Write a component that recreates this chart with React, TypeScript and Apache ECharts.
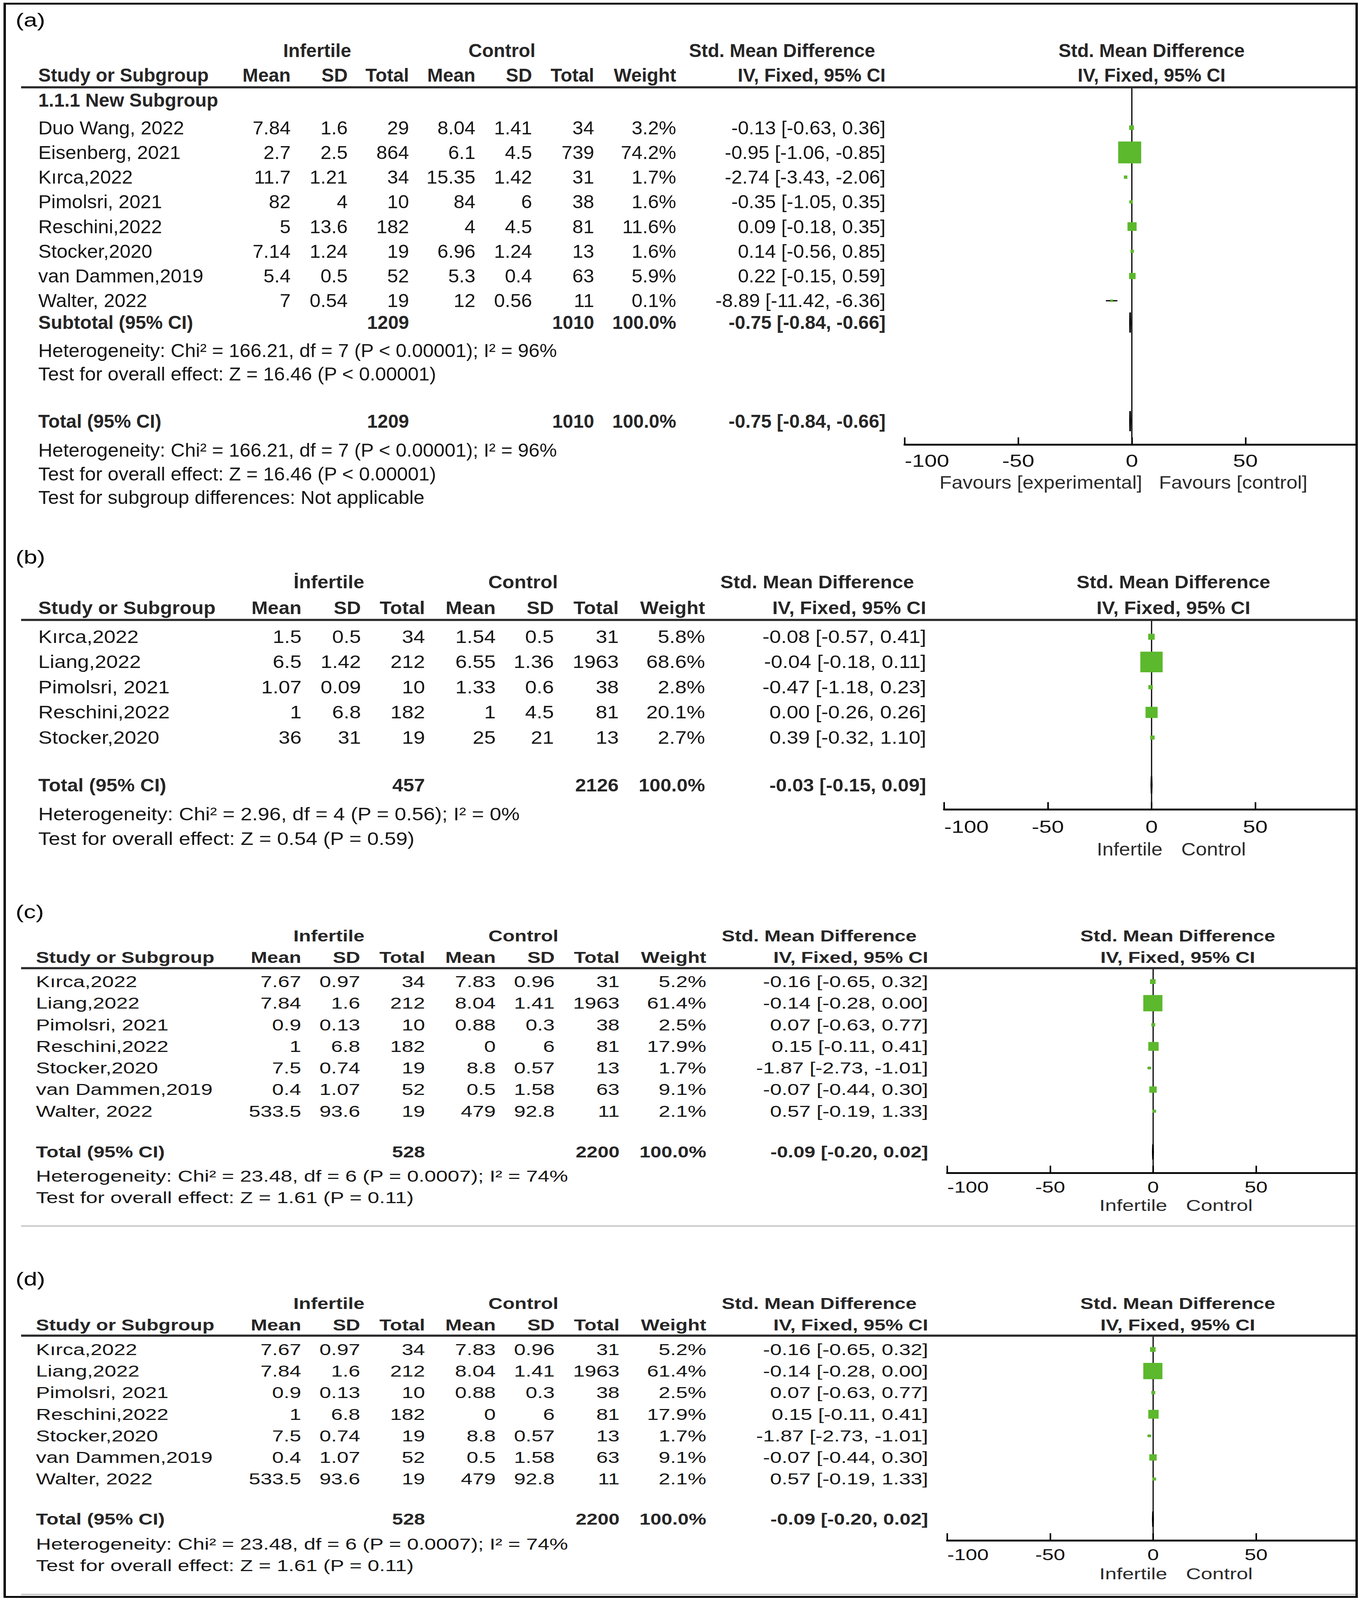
import React, { useEffect, useRef } from "react";
import * as echarts from "echarts";

const W = 3479;
const H = 5224;
const GREEN = "#5cb82c";
const FONT = "'Liberation Sans', Arial, sans-serif";
const NARROW = "'Liberation Sans Narrow', 'Arial Narrow', 'Liberation Sans', sans-serif";

// ---------------- Panel (a) data ----------------
const studiesA = ["Duo Wang, 2022", "Eisenberg, 2021", "Kırca,2022", "Pimolsri, 2021", "Reschini,2022", "Stocker,2020", "van Dammen,2019", "Walter, 2022"];
const infMeanA = [7.84, 2.7, 11.7, 82, 5, 7.14, 5.4, 7];
const infSdA = [1.6, 2.5, 1.21, 4, 13.6, 1.24, 0.5, 0.54];
const infNA = [29, 864, 34, 10, 182, 19, 52, 19];
const ctlMeanA = [8.04, 6.1, 15.35, 84, 4, 6.96, 5.3, 12];
const ctlSdA = [1.41, 4.5, 1.42, 6, 4.5, 1.24, 0.4, 0.56];
const ctlNA = [34, 739, 31, 38, 81, 13, 63, 11];
const weightA = [3.2, 74.2, 1.7, 1.6, 11.6, 1.6, 5.9, 0.1];
const smdA = [-0.13, -0.95, -2.74, -0.35, 0.09, 0.14, 0.22, -8.89];
const loA = [-0.63, -1.06, -3.43, -1.05, -0.18, -0.56, -0.15, -11.42];
const hiA = [0.36, -0.85, -2.06, 0.35, 0.35, 0.85, 0.59, -6.36];
const pooledA = [1209, 1010, 100.0, -0.75, -0.84, -0.66]; // inf total, ctl total, weight, smd, lo, hi
const statsA = [
  "Heterogeneity: Chi² = 166.21, df = 7 (P < 0.00001); I² = 96%",
  "Test for overall effect: Z = 16.46 (P < 0.00001)",
  "Test for subgroup differences: Not applicable",
];

// ---------------- Panel (b) data ----------------
const studiesB = ["Kırca,2022", "Liang,2022", "Pimolsri, 2021", "Reschini,2022", "Stocker,2020"];
const infMeanB = [1.5, 6.5, 1.07, 1, 36];
const infSdB = [0.5, 1.42, 0.09, 6.8, 31];
const infNB = [34, 212, 10, 182, 19];
const ctlMeanB = [1.54, 6.55, 1.33, 1, 25];
const ctlSdB = [0.5, 1.36, 0.6, 4.5, 21];
const ctlNB = [31, 1963, 38, 81, 13];
const weightB = [5.8, 68.6, 2.8, 20.1, 2.7];
const smdB = [-0.08, -0.04, -0.47, 0.0, 0.39];
const loB = [-0.57, -0.18, -1.18, -0.26, -0.32];
const hiB = [0.41, 0.11, 0.23, 0.26, 1.1];
const pooledB = [457, 2126, 100.0, -0.03, -0.15, 0.09];
const statsB = [
  "Heterogeneity: Chi² = 2.96, df = 4 (P = 0.56); I² = 0%",
  "Test for overall effect: Z = 0.54 (P = 0.59)",
];

// ---------------- Panel (c) and (d) data (identical) ----------------
const studiesC = ["Kırca,2022", "Liang,2022", "Pimolsri, 2021", "Reschini,2022", "Stocker,2020", "van Dammen,2019", "Walter, 2022"];
const infMeanC = [7.67, 7.84, 0.9, 1, 7.5, 0.4, 533.5];
const infSdC = [0.97, 1.6, 0.13, 6.8, 0.74, 1.07, 93.6];
const infNC = [34, 212, 10, 182, 19, 52, 19];
const ctlMeanC = [7.83, 8.04, 0.88, 0, 8.8, 0.5, 479];
const ctlSdC = [0.96, 1.41, 0.3, 6, 0.57, 1.58, 92.8];
const ctlNC = [31, 1963, 38, 81, 13, 63, 11];
const weightC = [5.2, 61.4, 2.5, 17.9, 1.7, 9.1, 2.1];
const smdC = [-0.16, -0.14, 0.07, 0.15, -1.87, -0.07, 0.57];
const loC = [-0.65, -0.28, -0.63, -0.11, -2.73, -0.44, -0.19];
const hiC = [0.32, 0.0, 0.77, 0.41, -1.01, 0.3, 1.33];
const pooledC = [528, 2200, 100.0, -0.09, -0.2, 0.02];
const statsC = [
  "Heterogeneity: Chi² = 23.48, df = 6 (P = 0.0007); I² = 74%",
  "Test for overall effect: Z = 1.61 (P = 0.11)",
];

const tickValues = [-100, -50, 0, 50, 100];

type PanelData = {
  tag: string;
  infLabel: string;
  studies: string[];
  infMean: number[]; infSd: number[]; infN: number[];
  ctlMean: number[]; ctlSd: number[]; ctlN: number[];
  weight: number[]; smd: number[]; lo: number[]; hi: number[];
  pooled: number[];
  stats: string[];
  favLeft: string; favRight: string;
  subgroup: boolean;
};

const dataA: PanelData = { tag: "(a)", infLabel: "Infertile", studies: studiesA, infMean: infMeanA, infSd: infSdA, infN: infNA, ctlMean: ctlMeanA, ctlSd: ctlSdA, ctlN: ctlNA, weight: weightA, smd: smdA, lo: loA, hi: hiA, pooled: pooledA, stats: statsA, favLeft: "Favours [experimental]", favRight: "Favours [control]", subgroup: true };
const dataB: PanelData = { tag: "(b)", infLabel: "İnfertile", studies: studiesB, infMean: infMeanB, infSd: infSdB, infN: infNB, ctlMean: ctlMeanB, ctlSd: ctlSdB, ctlN: ctlNB, weight: weightB, smd: smdB, lo: loB, hi: hiB, pooled: pooledB, stats: statsB, favLeft: "Infertile", favRight: "Control", subgroup: false };
const dataC: PanelData = { tag: "(c)", infLabel: "Infertile", studies: studiesC, infMean: infMeanC, infSd: infSdC, infN: infNC, ctlMean: ctlMeanC, ctlSd: ctlSdC, ctlN: ctlNC, weight: weightC, smd: smdC, lo: loC, hi: hiC, pooled: pooledC, stats: statsC, favLeft: "Infertile", favRight: "Control", subgroup: false };
const dataD: PanelData = { ...dataC, tag: "(d)" };

// ---------------- Layouts (pixel positions in the 3479x5224 design) ----------------
type Layout = {
  tagY: number; head1Y: number; head2Y: number; lineY: number;
  row0Y: number; rowH: number; axisY: number;
  subgroupY?: number; subtotalY?: number; subStatsY?: number[];
  totalY: number; statsY: number[];
  fs: number; sxN: number; sxB: number;
  cName: number; cMean1: number; cSd1: number; cN1: number; cMean2: number; cSd2: number; cN2: number; cWt: number; cCi: number;
  infC: number; ctlC: number; smdHeadC: number;
  pxMin: number; px0: number;
  tickFs: number; tickMargin: number;
  favY: number; favFs: number; favSx: number; favGapL: number; favGapR: number;
  boxW: number; boxH: number; diamondH: number;
};

const layoutA: Layout = {
  tagY: 66, head1Y: 165, head2Y: 245, lineY: 285,
  row0Y: 417, rowH: 80.7, axisY: 1452,
  subgroupY: 327, subtotalY: 1053, subStatsY: [1144, 1221],
  totalY: 1375, statsY: [1470, 1547, 1624],
  fs: 61, sxN: 0.82, sxB: 0.79,
  cName: 98, cMean1: 744, cSd1: 890, cN1: 1047, cMean2: 1217, cSd2: 1362, cN2: 1521, cWt: 1731, cCi: 2267,
  infC: 812, ctlC: 1285, smdHeadC: 2002,
  pxMin: 2316, px0: 2948,
  tickFs: 57, tickMargin: 24,
  favY: 1575, favFs: 58, favSx: 0.88, favGapL: 24, favGapR: 19,
  boxW: 6.85, boxH: 8.3, diamondH: 66,
};

const layoutB: Layout = {
  tagY: 1819, head1Y: 1900, head2Y: 1984, lineY: 2024,
  row0Y: 2079, rowH: 82.3, axisY: 2643,
  totalY: 2563, statsY: [2658, 2738],
  fs: 59, sxN: 0.9, sxB: 0.85,
  cName: 98, cMean1: 772, cSd1: 924, cN1: 1088, cMean2: 1269, cSd2: 1418, cN2: 1584, cWt: 1805, cCi: 2371,
  infC: 842, ctlC: 1339, smdHeadC: 2092,
  pxMin: 2417, px0: 3004,
  tickFs: 57, tickMargin: 28,
  favY: 2773, favFs: 59, favSx: 0.87, favGapL: 28, favGapR: 20,
  boxW: 6.9, boxH: 8.1, diamondH: 56,
};

const layoutC: Layout = {
  tagY: 2977, head1Y: 3056, head2Y: 3126, lineY: 3161,
  row0Y: 3205, rowH: 70.5, axisY: 3830,
  totalY: 3761, statsY: [3840, 3910],
  fs: 52, sxN: 1.03, sxB: 0.97,
  cName: 92, cMean1: 771, cSd1: 922, cN1: 1088, cMean2: 1269, cSd2: 1420, cN2: 1586, cWt: 1808, cCi: 2376,
  infC: 842, ctlC: 1340, smdHeadC: 2097,
  pxMin: 2425, px0: 3015,
  tickFs: 53, tickMargin: 19,
  favY: 3935, favFs: 53, favSx: 1.0, favGapL: 27, favGapR: 21,
  boxW: 6.25, boxH: 6.8, diamondH: 50,
};

const layoutD: Layout = {
  ...layoutC,
  tagY: 4176, head1Y: 4256, head2Y: 4326, lineY: 4361,
  row0Y: 4406, rowH: 70.5, axisY: 5030,
  totalY: 4960, statsY: [5042, 5112],
  favY: 5138,
};

const panels: { d: PanelData; L: Layout }[] = [
  { d: dataA, L: layoutA },
  { d: dataB, L: layoutB },
  { d: dataC, L: layoutC },
  { d: dataD, L: layoutD },
];

const f2 = (v: number) => v.toFixed(2);
const ciText = (s: number, l: number, h: number) => `${f2(s)} [${f2(l)}, ${f2(h)}]`;
const wText = (w: number) => `${w.toFixed(1)}%`;

function txt(x: number, y: number, text: string, fs: number, sx: number, opts: { bold?: boolean; align?: string; color?: string } = {}) {
  return {
    type: "text",
    x,
    y,
    scaleX: sx,
    silent: true,
    z: 10,
    style: {
      text,
      fontSize: fs,
      fontFamily: FONT,
      fontWeight: opts.bold ? "bold" : "normal",
      fill: opts.color || "#161616",
      textAlign: opts.align || "left",
      textVerticalAlign: "middle",
    },
  };
}

function buildOption() {
  const grid: any[] = [];
  const xAxis: any[] = [];
  const yAxis: any[] = [];
  const series: any[] = [];
  const graphic: any[] = [];

  panels.forEach(({ d, L }, gi) => {
    const yOf = (px: number) => (px - L.row0Y) / L.rowH;
    const yMin = yOf(L.lineY);
    const yMax = yOf(L.axisY);
    const pxMax = L.px0 + (L.px0 - L.pxMin);
    grid.push({ left: L.pxMin, top: L.lineY, width: pxMax - L.pxMin, height: L.axisY - L.lineY, containLabel: false });
    xAxis.push({
      gridIndex: gi,
      type: "value",
      min: tickValues[0],
      max: tickValues[tickValues.length - 1],
      interval: 50,
      axisLine: { show: true, onZero: false, lineStyle: { color: "#000", width: 6 } },
      axisTick: { show: true, inside: true, length: 24, lineStyle: { color: "#000", width: 4 } },
      axisLabel: {
        fontSize: L.tickFs,
        margin: L.tickMargin,
        color: "#111",
        fontFamily: NARROW,
        showMaxLabel: false,
        alignMinLabel: "left",
      },
      splitLine: { show: false },
    });
    yAxis.push({ gridIndex: gi, type: "value", inverse: true, min: yMin, max: yMax, show: false });

    // vertical line of no effect
    series.push({
      type: "line",
      xAxisIndex: gi,
      yAxisIndex: gi,
      data: [[0, yMin], [0, yMax]],
      showSymbol: false,
      symbol: "none",
      lineStyle: { color: "#000", width: 3 },
      z: 1,
      silent: true,
    });

    // study boxes with CI whiskers
    series.push({
      type: "custom",
      xAxisIndex: gi,
      yAxisIndex: gi,
      z: 3,
      silent: true,
      encode: { x: [0, 2, 3], y: 1 },
      data: d.smd.map((s, i) => [s, i, d.lo[i], d.hi[i], d.weight[i]]),
      renderItem: (params: any, api: any) => {
        const row = api.value(1);
        const c = api.coord([api.value(0), row]);
        const pl = api.coord([api.value(2), row]);
        const ph = api.coord([api.value(3), row]);
        const w = api.value(4);
        const bw = Math.max(7, L.boxW * Math.sqrt(w));
        const bh = Math.max(8, L.boxH * Math.sqrt(w));
        return {
          type: "group",
          children: [
            { type: "line", shape: { x1: pl[0], y1: c[1], x2: ph[0], y2: c[1] }, style: { stroke: "#000", lineWidth: 4 } },
            { type: "rect", shape: { x: c[0] - bw / 2, y: c[1] - bh / 2, width: bw, height: bh }, style: { fill: GREEN } },
          ],
        };
      },
    });

    // pooled diamonds
    const diamondRows = d.subgroup && L.subtotalY !== undefined ? [yOf(L.subtotalY), yOf(L.totalY)] : [yOf(L.totalY)];
    series.push({
      type: "custom",
      xAxisIndex: gi,
      yAxisIndex: gi,
      z: 4,
      silent: true,
      encode: { x: [0, 2, 3], y: 1 },
      data: diamondRows.map((r) => [d.pooled[3], r, d.pooled[4], d.pooled[5]]),
      renderItem: (params: any, api: any) => {
        const row = api.value(1);
        const c = api.coord([api.value(0), row]);
        const pl = api.coord([api.value(2), row]);
        const ph = api.coord([api.value(3), row]);
        const h = L.diamondH / 2;
        return {
          type: "polygon",
          shape: { points: [[pl[0], c[1]], [c[0], c[1] - h], [ph[0], c[1]], [c[0], c[1] + h]] },
          style: { fill: "#000", stroke: "#000", lineWidth: 4 },
        };
      },
    });

    // ---------- table text ----------
    const fs = L.fs;
    const N = L.sxN;
    const B = L.sxB;
    const HC = "#262626";
    graphic.push(txt(40, L.tagY, d.tag, 62, 1, { color: "#000" }));
    graphic.push(txt(L.infC, L.head1Y, d.infLabel, fs, B, { bold: true, align: "center", color: HC }));
    graphic.push(txt(L.ctlC, L.head1Y, "Control", fs, B, { bold: true, align: "center", color: HC }));
    graphic.push(txt(L.smdHeadC, L.head1Y, "Std. Mean Difference", fs, B, { bold: true, align: "center", color: HC }));
    graphic.push(txt(L.px0, L.head1Y, "Std. Mean Difference", fs, B, { bold: true, align: "center", color: HC }));
    graphic.push(txt(L.cName, L.head2Y, "Study or Subgroup", fs, B, { bold: true, color: HC }));
    const h2: [number, string][] = [
      [L.cMean1, "Mean"], [L.cSd1, "SD"], [L.cN1, "Total"],
      [L.cMean2, "Mean"], [L.cSd2, "SD"], [L.cN2, "Total"],
      [L.cWt, "Weight"], [L.cCi, "IV, Fixed, 95% CI"],
    ];
    h2.forEach(([x, t]) => graphic.push(txt(x, L.head2Y, t, fs, B, { bold: true, align: "right", color: HC })));
    graphic.push(txt(L.px0, L.head2Y, "IV, Fixed, 95% CI", fs, B, { bold: true, align: "center", color: HC }));
    graphic.push({ type: "line", z: 5, silent: true, shape: { x1: 54, y1: L.lineY, x2: 3473, y2: L.lineY }, style: { stroke: "#2a2a2a", lineWidth: 7 } });

    if (d.subgroup && L.subgroupY !== undefined) {
      graphic.push(txt(L.cName, L.subgroupY, "1.1.1 New Subgroup", fs, B, { bold: true, color: HC }));
    }

    d.studies.forEach((name, i) => {
      const y = L.row0Y + i * L.rowH;
      graphic.push(txt(L.cName, y, name, fs, N));
      const cells: [number, string][] = [
        [L.cMean1, String(d.infMean[i])], [L.cSd1, String(d.infSd[i])], [L.cN1, String(d.infN[i])],
        [L.cMean2, String(d.ctlMean[i])], [L.cSd2, String(d.ctlSd[i])], [L.cN2, String(d.ctlN[i])],
        [L.cWt, wText(d.weight[i])], [L.cCi, ciText(d.smd[i], d.lo[i], d.hi[i])],
      ];
      cells.forEach(([x, t]) => graphic.push(txt(x, y, t, fs, N, { align: "right" })));
    });

    const pooledRow = (y: number, label: string) => {
      graphic.push(txt(L.cName, y, label, fs, B, { bold: true, color: HC }));
      graphic.push(txt(L.cN1, y, String(d.pooled[0]), fs, B, { bold: true, align: "right", color: HC }));
      graphic.push(txt(L.cN2, y, String(d.pooled[1]), fs, B, { bold: true, align: "right", color: HC }));
      graphic.push(txt(L.cWt, y, wText(d.pooled[2]), fs, B, { bold: true, align: "right", color: HC }));
      graphic.push(txt(L.cCi, y, ciText(d.pooled[3], d.pooled[4], d.pooled[5]), fs, B, { bold: true, align: "right", color: HC }));
    };

    if (d.subgroup && L.subtotalY !== undefined && L.subStatsY) {
      pooledRow(L.subtotalY, "Subtotal (95% CI)");
      L.subStatsY.forEach((y, k) => graphic.push(txt(L.cName, y, d.stats[k], fs, N)));
    }
    pooledRow(L.totalY, "Total (95% CI)");
    L.statsY.forEach((y, k) => graphic.push(txt(L.cName, y, d.stats[k], fs, N)));

    graphic.push(txt(L.px0 - L.favGapL, L.favY, d.favLeft, L.favFs, L.favSx, { align: "right", color: "#2b2b2b" }));
    graphic.push(txt(L.px0 + L.favGapR, L.favY, d.favRight, L.favFs, L.favSx, { align: "left", color: "#2b2b2b" }));
  });

  graphic.push({ type: "line", z: 20, silent: true, shape: { x1: 54, y1: 4003, x2: 3473, y2: 4003 }, style: { stroke: "#c8c8c8", lineWidth: 5 } });
  graphic.push({ type: "line", z: 20, silent: true, shape: { x1: 54, y1: 5206, x2: 3473, y2: 5206 }, style: { stroke: "#c8c8c8", lineWidth: 5 } });
  graphic.push({ type: "rect", z: 30, silent: true, shape: { x: 3475, y: 0, width: 20, height: H }, style: { fill: "#fff" } });
  graphic.push({ type: "rect", z: 31, silent: true, shape: { x: 12, y: 12, width: 3461, height: 5202 }, style: { fill: "none", stroke: "#000", lineWidth: 6 } });

  return {
    animation: false,
    backgroundColor: "#fff",
    grid,
    xAxis,
    yAxis,
    series,
    graphic: { elements: graphic },
  };
}

export default function App() {
  const ref = useRef<HTMLDivElement>(null);
  // The browser window may be shorter than the design height; fit the whole figure vertically.
  const viewH = typeof window !== "undefined" && window.innerHeight ? window.innerHeight : H;
  const k = Math.min(1, viewH / H);
  useEffect(() => {
    if (!ref.current) return;
    const chart = echarts.init(ref.current, null, { renderer: "svg", width: W, height: H });
    chart.setOption(buildOption() as any);
    return () => chart.dispose();
  }, []);
  return (
    <div style={{ position: "absolute", left: 0, top: 0, width: W, height: Math.floor(H * k), overflow: "hidden", background: "#fff" }}>
      <div
        ref={ref}
        style={{ width: W, height: H, transform: `scale(1, ${k})`, transformOrigin: "0 0", background: "#fff" }}
      />
    </div>
  );
}
